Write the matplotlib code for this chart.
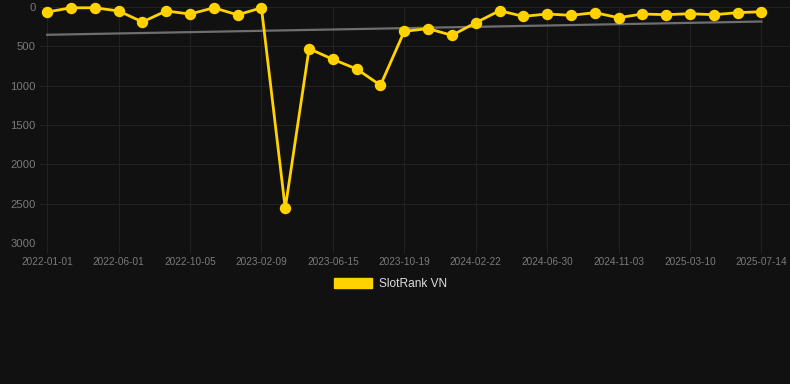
import matplotlib
matplotlib.use("Agg")
import matplotlib.pyplot as plt
from matplotlib.patches import Patch
import numpy as np

plt.rcParams["font.family"] = ["Liberation Sans", "DejaVu Sans"]

# rank per snapshot (lower is better), x axis is categorical
ranks = [64, 10, 10, 50, 190, 50, 90, 10, 100, 10,
         2560, 530, 665, 788, 995, 309, 275, 360, 200, 47,
         119, 89, 106, 72, 136, 89, 98, 85, 98, 72, 60]
tick_labels = ["2022-01-01", "2022-06-01", "2022-10-05", "2023-02-09",
               "2023-06-15", "2023-10-19", "2024-02-22", "2024-06-30",
               "2024-11-03", "2025-03-10", "2025-07-14"]
series_name = "SlotRank VN"

bg = "#111111"
gold = "#FFD200"
grid = "#222222"

fig = plt.figure(figsize=(7.9, 3.84), dpi=100, facecolor=bg)
ax = fig.add_axes([40 / 790, 1 - 243 / 384, 750 / 790, 236 / 384], facecolor=bg)

x = np.arange(len(ranks))
y = np.array(ranks)

# linear trend
k, b = np.polyfit(x, y, 1)
ax.plot([x[0], x[-1]], [k * x[0] + b, k * x[-1] + b], color="#6e6e6e", lw=1.6, zorder=2)

ax.plot(x, y, color=gold, lw=2.0, marker="o", markersize=7.2,
        solid_joinstyle="miter", clip_on=False, zorder=3)

ax.set_xlim(-0.3, 31.2)
ax.set_ylim(3000, 0)
ax.set_yticks([0, 500, 1000, 1500, 2000, 2500, 3000])
ax.set_xticks(x[::3])
ax.set_xticklabels(tick_labels)

ax.grid(True, color=grid, lw=0.8)
ax.set_axisbelow(True)
for s in ax.spines.values():
    s.set_visible(False)
ax.tick_params(axis="y", length=0, labelsize=8.1, pad=3, labelcolor="#7a7a7a")
ax.tick_params(axis="x", length=7, width=0.8, color=grid, labelsize=7.2, pad=3,
               labelcolor="#7a7a7a")

fig.legend(handles=[Patch(facecolor=gold, edgecolor=gold)], labels=[series_name],
           loc="center", bbox_to_anchor=(0.494, 1 - 284 / 384), frameon=False,
           handlelength=3.2, handleheight=1.0, handletextpad=0.55,
           fontsize=8.6, labelcolor="#dddddd")

fig.savefig("out.png", dpi=100, facecolor=bg)
plt.close(fig)
